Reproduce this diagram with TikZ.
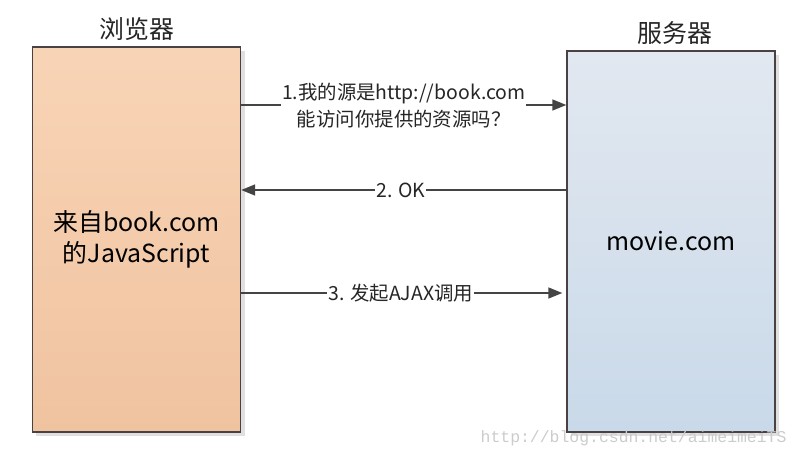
\documentclass[tikz,border=0pt]{standalone}
\usepackage{fontspec}
\setmainfont{Noto Sans CJK SC}
\newfontfamily\markfont{Liberation Mono}
\usetikzlibrary{arrows.meta,shadows}
\definecolor{peachtop}{HTML}{F8D4B6}
\definecolor{peachbot}{HTML}{F0C3A0}
\definecolor{bluetop}{HTML}{E2E8F0}
\definecolor{bluebot}{HTML}{C9D9E9}
\definecolor{edgecol}{HTML}{4A4242}
\definecolor{linecol}{HTML}{444444}
\tikzset{
  hostbox/.style={draw=edgecol, line width=1.4bp, minimum width=208bp, minimum height=385bp,
    inner sep=0pt, align=center, font=\fontsize{25}{31}\selectfont,
    drop shadow={shadow xshift=4bp, shadow yshift=-4bp, fill=black!12, opacity=1}},
  title/.style={font=\fontsize{25}{28}\selectfont, text=black!85},
  msg/.style={draw=linecol, line width=1.5bp, -{Triangle[length=14bp,width=11bp]}},
  msglabel/.style={fill=white, inner sep=1bp, align=center, text=black!85,
    font=\fontsize{19.5}{27}\selectfont}
}

\begin{document}
\begin{tikzpicture}[x=1bp,y=-1bp]
  %%%%% START %%%%%
  \useasboundingbox[fill=white] (0,0) rectangle (798,458);

  % the two hosts
  \node[hostbox, top color=peachtop, bottom color=peachbot] (browser) at (136.5,239.5)
    {来自book.com\\的JavaScript};
  \node[hostbox, top color=bluetop, bottom color=bluebot, minimum height=381bp] (server) at (671,241.5)
    {movie.com};

  \node[title] (browsertitle) at (137,29) {浏览器};
  \node[title] (servertitle) at (675,33) {服务器};

  % messages
  \coordinate (m1) at (405,105);
  \coordinate (m2) at (405,190);
  \coordinate (m3) at (405,293);

  \draw[msg] (browser.east |- m1) -- node[msglabel, yshift=-1bp] {1.我的源是http://book.com\\能访问你提供的资源吗？} (server.west |- m1);
  \draw[msg] (server.west |- m2) -- node[msglabel, xshift=-3bp] {2. OK} (browser.east |- m2);
  \draw[msg, shorten >=4bp] (browser.east |- m3) -- node[msglabel, xshift=-3bp] {3. 发起AJAX调用} (server.west |- m3);

  % watermark
  \node[font=\markfont\fontsize{16.5}{18}\selectfont, text=black!20, anchor=east] (mark) at (790,438)
    {http://blog.csdn.net/aimeimeiTS};
  %%%%% END %%%%%
\end{tikzpicture}
\end{document}
